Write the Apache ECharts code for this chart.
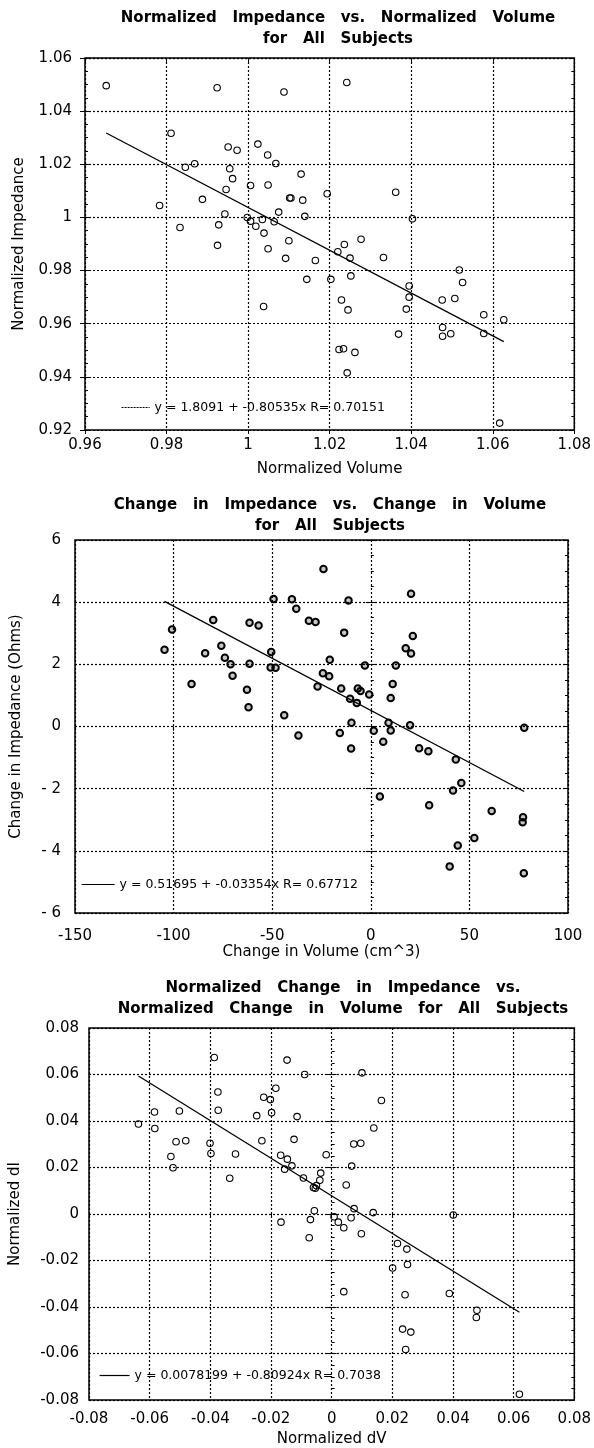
<!DOCTYPE html>
<html>
<head>
<meta charset="utf-8">
<title>Impedance vs. Volume</title>
<script src="https://cdn.jsdelivr.net/npm/echarts@6/dist/echarts.min.js"></script>
<style>
  html, body { margin: 0; padding: 0; background: #fff; }
  #chart { width: 594px; height: 1448px; }
</style>
</head>
<body>
<div id="chart"></div>
<script>
// ---- Panel 1: normalized impedance vs. normalized volume ----
const volNorm = [0.9652, 0.9924, 1.0088, 1.0242, 0.9811, 0.9951, 0.9973, 1.0024, 1.0048, 1.0068,
  0.9846, 0.9869, 0.9955, 0.9962, 1.0130, 1.0006, 1.0049, 0.9946, 1.0194, 1.0362,
  0.9888, 1.0102, 1.0105, 1.0134, 0.9783, 1.0075, 1.0139, 0.9943, 1.0403, 0.9998,
  1.0006, 1.0035, 1.0064, 1.0019, 0.9928, 0.9833, 1.0039, 1.0100, 0.9925, 1.0049,
  1.0277, 1.0236, 1.0220, 1.0250, 1.0332, 1.0092, 1.0165, 1.0144, 1.0203, 1.0252,
  1.0518, 1.0526, 1.0395, 1.0395, 1.0229, 1.0245, 1.0388, 1.0476, 1.0507, 1.0578,
  1.0627, 1.0038, 1.0369, 1.0477, 1.0477, 1.0497, 1.0578, 1.0223, 1.0234, 1.0262,
  1.0243, 1.0617];
const impNorm = [1.0496, 1.0488, 1.0472, 1.0508, 1.0317, 1.0265, 1.0253, 1.0276, 1.0235, 1.0203,
  1.0189, 1.0202, 1.0183, 1.0146, 1.0163, 1.0120, 1.0122, 1.0105, 1.0089, 1.0095,
  1.0068, 1.0073, 1.0073, 1.0065, 1.0045, 1.0020, 1.0004, 1.0013, 0.9995, 1.0000,
  0.9986, 0.9992, 0.9984, 0.9967, 0.9972, 0.9962, 0.9941, 0.9912, 0.9895, 0.9882,
  0.9918, 0.9898, 0.9871, 0.9847, 0.9849, 0.9846, 0.9838, 0.9767, 0.9767, 0.9780,
  0.9802, 0.9755, 0.9742, 0.9700, 0.9689, 0.9652, 0.9655, 0.9689, 0.9695, 0.9634,
  0.9615, 0.9665, 0.9561, 0.9586, 0.9553, 0.9562, 0.9563, 0.9503, 0.9506, 0.9492,
  0.9415, 0.9226];
const fitNorm = [1.8091, -0.80535, 0.70151];            // intercept, slope, R
const volNormTicks = [0.96, 0.98, 1, 1.02, 1.04, 1.06, 1.08];
const impNormTicks = [0.92, 0.94, 0.96, 0.98, 1, 1.02, 1.04, 1.06];

// ---- Panel 2: change in impedance vs. change in volume ----
const dVol = [-24.0, 20.4, -49.3, -40.0, -11.3, -37.8, -79.9, -61.5, -56.9, -31.4,
  -28.0, -100.8, -13.5, 21.3, -104.6, -75.8, -84.0, 17.7, 20.4, -50.5,
  -74.0, -20.8, -71.1, -61.5, -3.0, 12.7, -50.8, -48.3, -70.1, -24.3,
  -21.1, -90.9, 11.1, -62.8, -27.0, -15.0, -6.6, -5.2, -0.8, 10.1,
  -10.5, -7.1, -62.0, -43.9, 9.0, -9.8, 19.9, 10.1, 1.5, -15.7,
  -36.7, 6.3, -10.0, 24.5, 29.2, 43.1, 61.3, 41.7, 45.9, 4.6,
  29.6, 52.5, 44.1, 40.0, 77.8, 77.2, 77.0, 77.6];
const dImp = [5.07, 4.27, 4.10, 4.09, 4.05, 3.79, 3.43, 3.34, 3.25, 3.40,
  3.36, 3.12, 3.02, 2.91, 2.47, 2.60, 2.36, 2.52, 2.35, 2.40,
  2.21, 2.15, 2.00, 2.02, 1.96, 1.96, 1.90, 1.89, 1.63, 1.71,
  1.62, 1.37, 1.37, 1.18, 1.29, 1.22, 1.22, 1.14, 1.03, 0.92,
  0.89, 0.76, 0.62, 0.36, 0.12, 0.12, 0.04, -0.13, -0.14, -0.21,
  -0.29, -0.49, -0.71, -0.70, -0.80, -1.06, -2.72, -2.06, -1.82, -2.25,
  -2.53, -3.59, -3.83, -4.50, -0.04, -2.92, -3.08, -4.72];
const fitDelta = [0.51695, -0.03354, 0.67712];
const dVolTicks = [-150, -100, -50, 0, 50, 100];
const dImpTicks = [-6, -4, -2, 0, 2, 4, 6];

// ---- Panel 3: normalized change in impedance vs. normalized change in volume ----
const dVNorm = [-0.0387, -0.0147, -0.0089, 0.0100, -0.0184, -0.0224, -0.0202, -0.0375, 0.0164, -0.0374,
  -0.0584, -0.0502, -0.0198, -0.0247, -0.0114, -0.0637, -0.0583, 0.0139, -0.0513, -0.0481,
  -0.0401, -0.0230, -0.0124, 0.0073, 0.0096, -0.0530, -0.0398, -0.0317, -0.0018, -0.0168,
  -0.0146, -0.0523, -0.0155, -0.0131, 0.0066, -0.0036, -0.0336, -0.0093, -0.0039, 0.0048,
  -0.0060, -0.0054, -0.0050, 0.0074, 0.0137, -0.0057, 0.0401, 0.0008, 0.0064, 0.0022,
  -0.0167, -0.0070, 0.0040, 0.0098, -0.0074, 0.0217, 0.0248, 0.0250, 0.0201, 0.0040,
  0.0242, 0.0388, 0.0479, 0.0477, 0.0234, 0.0261, 0.0244, 0.0619];
const dINorm = [0.0673, 0.0662, 0.0600, 0.0607, 0.0541, 0.0502, 0.0492, 0.0525, 0.0488, 0.0446,
  0.0439, 0.0443, 0.0436, 0.0423, 0.0419, 0.0387, 0.0368, 0.0370, 0.0311, 0.0315,
  0.0304, 0.0315, 0.0321, 0.0301, 0.0304, 0.0247, 0.0260, 0.0258, 0.0255, 0.0253,
  0.0236, 0.0199, 0.0193, 0.0207, 0.0206, 0.0176, 0.0154, 0.0155, 0.0145, 0.0125,
  0.0114, 0.0111, 0.0122, 0.0023, 0.0006, 0.0014, -0.0004, -0.0012, -0.0016, -0.0035,
  -0.0035, -0.0024, -0.0059, -0.0085, -0.0102, -0.0127, -0.0151, -0.0217, -0.0232, -0.0334,
  -0.0347, -0.0342, -0.0414, -0.0445, -0.0495, -0.0508, -0.0583, -0.0775];
const fitDeltaNorm = [0.0078199, -0.80924, 0.7038];
const dVNormTicks = [-0.08, -0.06, -0.04, -0.02, 0, 0.02, 0.04, 0.06, 0.08];
const dINormTicks = [-0.08, -0.06, -0.04, -0.02, 0, 0.02, 0.04, 0.06, 0.08];

// ---- Text ----
const titles = [
  'Normalized   Impedance   vs.   Normalized   Volume\nfor   All   Subjects',
  'Change   in   Impedance   vs.   Change   in   Volume\nfor   All   Subjects',
  'Normalized   Change   in   Impedance   vs.\nNormalized   Change   in   Volume   for   All   Subjects'
];
const xNames = ['Normalized Volume', 'Change in Volume (cm^3)', 'Normalized dV'];
const yNames = ['Normalized Impedance', 'Change in Impedance (Ohms)', 'Normalized dI'];

// ---- Layout of each panel (pixels) ----
const layouts = [
  { box: { left: 85, top: 58, width: 491, height: 372 }, xMargin: 8, yMargin: 13, xGap: 32, yGap: 58,
    titleX: 338, titleY: 7.5, legendX: 121, legendY: 401, legendW: 28, legendDash: [2, 1] },
  { box: { left: 75, top: 540, width: 493, height: 373 }, xMargin: 16, yMargin: 14, xGap: 32, yGap: 51,
    titleX: 330, titleY: 494.5, legendX: 81, legendY: 878, legendW: 33, legendDash: null },
  { box: { left: 87.5, top: 1028, width: 490.5, height: 372 }, xMargin: 12, yMargin: 10, xGap: 32, yGap: 66,
    titleX: 343, titleY: 977.5, legendX: 99, legendY: 1369, legendW: 30, legendDash: null }
];

const panels = [
  { xs: volNorm, ys: impNorm, fit: fitNorm, xt: volNormTicks, yt: impNormTicks,
    fmtX: v => String(+v.toFixed(2)), fmtY: v => String(+v.toFixed(2)),
    marker: { size: 6.5, fill: 'rgba(255,255,255,0)', border: 1.1 } },
  { xs: dVol, ys: dImp, fit: fitDelta, xt: dVolTicks, yt: dImpTicks,
    fmtX: v => String(Math.round(v)), fmtY: v => (v < 0 ? '- ' + Math.abs(Math.round(v)) : String(Math.round(v))),
    marker: { size: 6.5, fill: 'rgba(0,0,0,0.22)', border: 2 } },
  { xs: dVNorm, ys: dINorm, fit: fitDeltaNorm, xt: dVNormTicks, yt: dINormTicks,
    fmtX: v => String(+v.toFixed(2)), fmtY: v => String(+v.toFixed(2)),
    marker: { size: 6.5, fill: 'rgba(255,255,255,0)', border: 1.1 } }
];

const FONT = 'DejaVu Sans';
const INK = '#000';
const dotted = { color: INK, width: 1.2, type: [2, 2] };

const grid = [], xAxis = [], yAxis = [], series = [], legend = [], graphic = [];

panels.forEach((p, i) => {
  const L = layouts[i];
  grid.push(Object.assign({ show: true, borderColor: INK, borderWidth: 1.5, containLabel: false }, L.box));

  const xMin = p.xt[0], xMax = p.xt[p.xt.length - 1], xStep = p.xt[1] - p.xt[0];
  const yMin = p.yt[0], yMax = p.yt[p.yt.length - 1], yStep = p.yt[1] - p.yt[0];

  // bottom axis with labels, outward ticks and dotted grid
  xAxis.push({
    gridIndex: i, type: 'value', position: 'bottom', min: xMin, max: xMax, interval: xStep,
    name: xNames[i], nameLocation: 'middle', nameGap: L.xGap,
    nameTextStyle: { fontFamily: FONT, fontSize: 15, color: INK },
    axisLine: { show: false },
    axisTick: { show: true, length: 4, lineStyle: { color: INK, width: 1 } },
    axisLabel: { margin: L.xMargin, fontFamily: FONT, fontSize: 15, color: INK, formatter: p.fmtX },
    splitLine: { show: true, lineStyle: dotted }
  });
  // top axis: inward ticks only
  xAxis.push({
    gridIndex: i, type: 'value', position: 'top', min: xMin, max: xMax, interval: xStep,
    axisLine: { show: false }, axisLabel: { show: false }, splitLine: { show: false },
    axisTick: { show: true, inside: true, length: 4, lineStyle: { color: INK, width: 1 } }
  });

  // left axis with labels and dotted grid
  yAxis.push({
    gridIndex: i, type: 'value', position: 'left', min: yMin, max: yMax, interval: yStep,
    name: yNames[i], nameLocation: 'middle', nameGap: L.yGap, nameRotate: 90,
    nameTextStyle: { fontFamily: FONT, fontSize: 15, color: INK },
    axisLine: { show: false },
    axisTick: { show: true, length: 5, lineStyle: { color: INK, width: 1 } },
    axisLabel: { margin: L.yMargin, fontFamily: FONT, fontSize: 15, color: INK, formatter: p.fmtY },
    splitLine: { show: true, lineStyle: dotted }
  });
  // left axis: inward major + minor ticks
  yAxis.push({
    gridIndex: i, type: 'value', position: 'left', min: yMin, max: yMax, interval: yStep,
    axisLine: { show: false }, axisLabel: { show: false }, splitLine: { show: false },
    axisTick: { show: true, inside: true, length: 5, lineStyle: { color: INK, width: 1 } },
    minorTick: { show: true, splitNumber: 4, length: 3, lineStyle: { color: INK, width: 1 } }
  });
  // right axis: inward major + minor ticks
  yAxis.push({
    gridIndex: i, type: 'value', position: 'right', min: yMin, max: yMax, interval: yStep,
    axisLine: { show: false }, axisLabel: { show: false }, splitLine: { show: false },
    axisTick: { show: true, inside: true, length: 5, lineStyle: { color: INK, width: 1 } },
    minorTick: { show: true, splitNumber: 4, length: 3, lineStyle: { color: INK, width: 1 } }
  });

  const xi = 2 * i, yi = 3 * i;
  const [b, m, r] = p.fit;
  const fitName = 'y = ' + b + ' + ' + m + 'x R= ' + r;
  const lo = Math.min(...p.xs), hi = Math.max(...p.xs);

  series.push({
    type: 'scatter', name: 'All Subjects ' + (i + 1), xAxisIndex: xi, yAxisIndex: yi,
    symbol: 'circle', symbolSize: p.marker.size,
    itemStyle: { color: p.marker.fill, borderColor: INK, borderWidth: p.marker.border, opacity: 1 },
    data: p.xs.map((x, k) => [x, p.ys[k]]),
    silent: true, z: 3
  });
  series.push({
    type: 'line', name: fitName, xAxisIndex: xi, yAxisIndex: yi,
    showSymbol: false, symbol: 'none', color: INK,
    lineStyle: { color: INK, width: 1.3 },
    data: [[lo, b + m * lo], [hi, b + m * hi]],
    silent: true, z: 4
  });

  legend.push({
    data: [fitName], left: L.legendX, top: L.legendY, padding: 0,
    itemWidth: L.legendW, itemHeight: 12, itemGap: 0,
    selectedMode: false,
    itemStyle: { opacity: 0 },
    lineStyle: { color: INK, width: 1.2, type: L.legendDash || 'solid' },
    textStyle: { fontFamily: FONT, fontSize: 12.5, color: INK }
  });

  graphic.push({
    type: 'text', x: L.titleX, y: L.titleY, silent: true,
    style: {
      text: titles[i], fill: INK, font: 'bold 15px "DejaVu Sans"',
      textAlign: 'center', align: 'center', textVerticalAlign: 'top', verticalAlign: 'top',
      lineHeight: 21
    }
  });
});

const chart = echarts.init(document.getElementById('chart'), null, { renderer: 'canvas' });
chart.setOption({
  backgroundColor: '#fff',
  animation: false,
  grid, xAxis, yAxis, series, legend, graphic
});
</script>
</body>
</html>
